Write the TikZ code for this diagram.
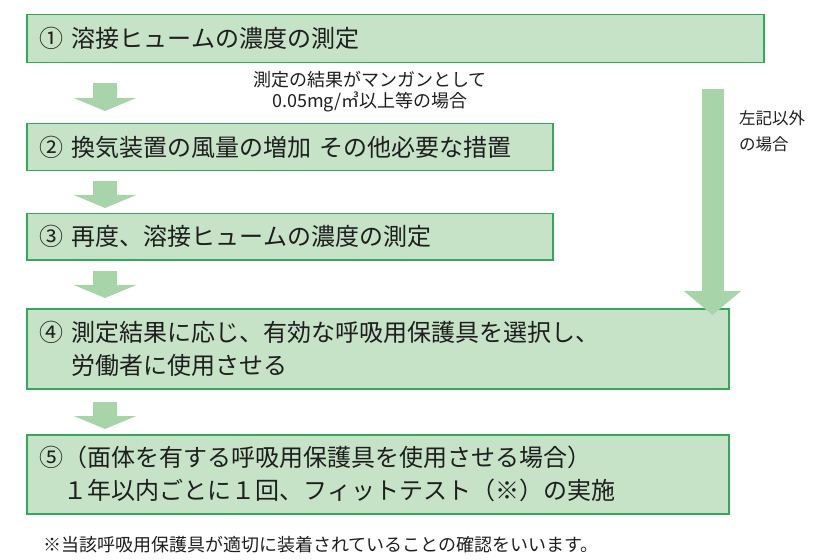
\documentclass[tikz,border=0pt]{standalone}
\usepackage{fontspec}
\setmainfont{Noto Sans CJK JP}
\usetikzlibrary{arrows.meta}
\definecolor{boxfill}{RGB}{198,226,199}
\definecolor{boxline}{RGB}{52,168,88}
\definecolor{arrowfill}{RGB}{168,212,170}
\definecolor{ink}{RGB}{30,30,30}
\tikzset{
  stepbox/.style={
    draw=boxline,
    fill=boxfill,
    line width=1.5bp,
    anchor=north west,
    inner xsep=13bp,
    inner ysep=0pt,
    align=left,
    text=ink,
    font=\fontsize{24bp}{33bp}\selectfont
  },
  flow/.style={draw=arrowfill, line width=24bp, -{Triangle[width=62bp,length=13bp]}},
  bigflow/.style={draw=arrowfill, line width=22bp, -{Triangle[width=56bp,length=24bp]}},
  note/.style={text=ink, inner sep=0pt, align=left}
}
\begin{document}
\begin{tikzpicture}[x=1bp,y=-1bp]
    \useasboundingbox (0,0) rectangle (820,560);
    % steps
    \node[stepbox,minimum width=737bp,minimum height=48bp,text width=711bp] (s1) at (26,14) {① 溶接ヒュームの濃度の測定};
    \node[stepbox,minimum width=526bp,minimum height=47bp,text width=500bp] (s2) at (26,123) {② 換気装置の風量の増加 その他必要な措置};
    \node[stepbox,minimum width=526bp,minimum height=46bp,text width=500bp] (s3) at (26,213) {③ 再度、溶接ヒュームの濃度の測定};
    \node[stepbox,minimum width=702bp,minimum height=80bp,text width=676bp] (s4) at (26,308) {④ 測定結果に応じ、有効な呼吸用保護具を選択し、\\\phantom{④ }労働者に使用させる};
    \node[stepbox,minimum width=702bp,minimum height=79bp,text width=676bp] (s5) at (26,434) {⑤（面体を有する呼吸用保護具を使用させる場合）\\\phantom{⑤}１年以内ごとに１回、フィットテスト（※）の実施};
    % labels
    \node[note,align=center,font=\fontsize{18bp}{21bp}\selectfont] (cond) at (370,91.5) {測定の結果がマンガンとして\\0.05mg/㎥以上等の場合};
    \node[note,anchor=west,font=\fontsize{16.5bp}{26bp}\selectfont] (other) at (739,131) {左記以外\\の場合};
    \node[note,anchor=west,font=\fontsize{18bp}{20bp}\selectfont] (fn) at (43,545) {※当該呼吸用保護具が適切に装着されていることの確認をいいます。};
    % arrows
    \draw[flow] ([xshift=79bp,yshift=-20bp]s1.south west) -- ([xshift=79bp,yshift=12bp]s2.north west);
    \draw[flow] ([xshift=79bp,yshift=-10bp]s2.south west) -- ([xshift=79bp,yshift=5bp]s3.north west);
    \draw[flow] ([xshift=79bp,yshift=-10bp]s3.south west) -- ([xshift=79bp,yshift=10bp]s4.north west);
    \draw[flow] ([xshift=79bp,yshift=-12bp]s4.south west) -- ([xshift=79bp,yshift=5bp]s5.north west);
    \draw[bigflow] ([xshift=-52bp,yshift=-26bp]s1.south east) -- ([xshift=-17bp,yshift=-7bp]s4.north east);
\end{tikzpicture}
\end{document}
